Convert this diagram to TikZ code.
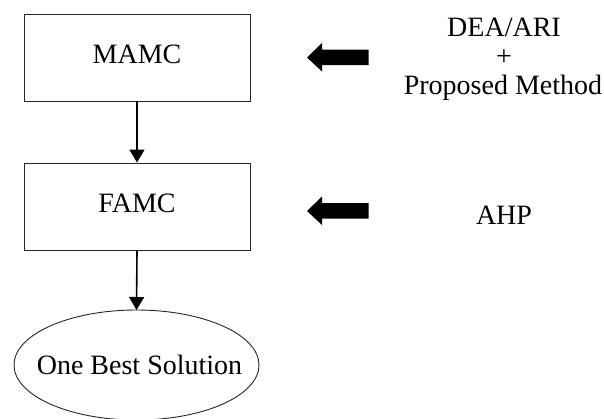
\documentclass[tikz,border=0pt]{standalone}
\usepackage{fontspec}
\setmainfont{Liberation Serif}
\usetikzlibrary{arrows.meta,shapes.geometric}
\tikzset{
  stagebox/.style={draw=black!85, line width=0.9pt, rectangle, minimum width=226pt, minimum height=87pt, inner sep=0pt, text height=20pt, text depth=8.4pt},
  ovalline/.style={draw=black!85, line width=0.9pt},
  flowarrow/.style={line width=1.6pt, -{Triangle[width=15pt,length=13pt]}},
  blockarrow/.style={fill=black, draw=none},
  labeltext/.style={align=center, inner sep=0pt},
}
\begin{document}
\begin{tikzpicture}[x=1pt,y=-1pt,font=\fontsize{28}{29}\selectfont]
\useasboundingbox (0,0) rectangle (604,418);
\node[stagebox] (mamc) at (137,57.5) {MAMC};
\node[stagebox] (famc) at (137,206.5) {FAMC};
\coordinate (bestc) at (136.5,365);
\draw[ovalline] (bestc) ellipse [x radius=122.5pt, y radius=55pt];
\coordinate (besttop) at (136.5,310);
\node[labeltext, anchor=base] (best) at (139.5,374) {One Best Solution};
\draw[flowarrow] (mamc.south) -- (famc.north);
\draw[flowarrow] (famc.south) -- (besttop);
% block arrows
\coordinate (a1) at (307,57.5);
\fill[blockarrow] (a1) -- ++(15,-14.5) -- ++(0,6.5) -- ++(46.5,0) -- ++(0,15.5) -- ++(-46.5,0) -- ++(0,6.5) -- cycle;
\coordinate (a2) at (307,211);
\fill[blockarrow] (a2) -- ++(15,-14.5) -- ++(0,6.5) -- ++(46.5,0) -- ++(0,15.5) -- ++(-46.5,0) -- ++(0,6.5) -- cycle;
\node[labeltext, anchor=base] (dea) at (504,36) {DEA/ARI};
\node[labeltext, anchor=base] (plus) at (504,65) {+};
\node[labeltext, anchor=base] (prop) at (503,94) {Proposed Method};
\node[labeltext, anchor=base] (ahp) at (504,224) {AHP};
\end{tikzpicture}
\end{document}
